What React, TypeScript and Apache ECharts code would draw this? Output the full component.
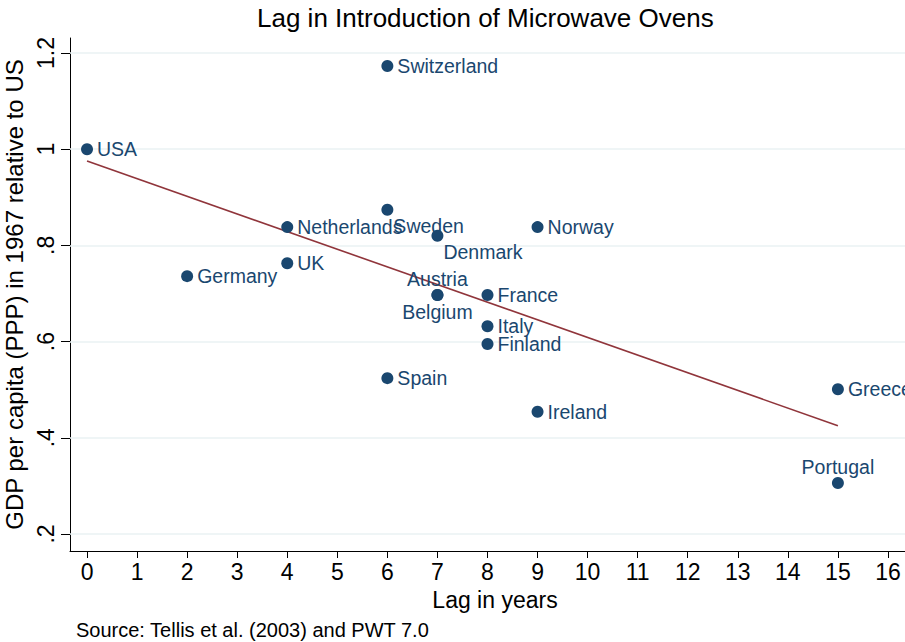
import React, { useEffect, useRef } from "react";
import * as echarts from "echarts";

const countries = ["USA", "Switzerland", "Sweden", "Netherlands", "Denmark", "Norway", "Germany", "UK", "Austria", "Belgium", "France", "Italy", "Finland", "Spain", "Ireland", "Greece", "Portugal"];
const lagYears = [0, 6, 6, 4, 7, 9, 2, 4, 7, 7, 8, 8, 8, 6, 9, 15, 15];
const gdpRelative = [1.0, 1.173, 0.874, 0.838, 0.82, 0.838, 0.736, 0.763, 0.697, 0.697, 0.697, 0.632, 0.595, 0.524, 0.454, 0.501, 0.306];
const fitX = [0, 15];
const fitY = [0.9755, 0.425];
const xTicks = [0, 1, 2, 3, 4, 5, 6, 7, 8, 9, 10, 11, 12, 13, 14, 15, 16];
const yTicks = [0.2, 0.4, 0.6, 0.8, 1.0, 1.2];
const yTickLabels = [".2", ".4", ".6", ".8", "1", "1.2"];
const labelClock: Record<string, number> = { Sweden: 4, Denmark: 4, Austria: 12, Belgium: 6, Portugal: 12 };

const titleText = "Lag in Introduction of Microwave Ovens";
const xTitle = "Lag in years";
const yTitle = "GDP per capita (PPP) in 1967 relative to US";
const noteText = "Source: Tellis et al. (2003) and PWT 7.0";

const FONT = "'Liberation Sans', Arial, Helvetica, sans-serif";
const NAVY = "#1a476f";
const MAROON = "#90353b";
const GRID = "#eaf2f3";

function labelFor(name: string) {
  const c = labelClock[name] ?? 3;
  if (c === 12) return { position: [6, -10], align: "center", verticalAlign: "middle" };
  if (c === 6) return { position: [6, 23], align: "center", verticalAlign: "middle" };
  if (c === 4) return { position: [12, 22], align: "left", verticalAlign: "middle" };
  return { position: [16, 6], align: "left", verticalAlign: "middle" };
}

export default function App() {
  const ref = useRef<HTMLDivElement>(null);
  useEffect(() => {
    if (!ref.current) return;
    const chart = echarts.init(ref.current, null, { renderer: "svg" });
    const scatterData = countries.map((name, i) => ({
      value: [lagYears[i], gdpRelative[i]],
      name,
      label: { show: true, formatter: name, ...labelFor(name) },
    }));
    chart.setOption({
      animation: false,
      backgroundColor: "#ffffff",
      textStyle: { fontFamily: FONT },
      title: [
        {
          text: titleText,
          left: 257,
          top: 5,
          padding: 0,
          textStyle: { fontFamily: FONT, fontSize: 26, fontWeight: "normal", color: "#000" },
        },
        {
          text: noteText,
          left: 76,
          top: 620,
          padding: 0,
          textStyle: { fontFamily: FONT, fontSize: 20, fontWeight: "normal", color: "#000" },
        },
      ],
      grid: { left: 70, top: 38, width: 850, height: 513, containLabel: false, outerBoundsMode: "none" },
      xAxis: {
        type: "value",
        min: -0.34,
        max: 16.64,
        name: xTitle,
        nameLocation: "middle",
        nameGap: 37,
        nameTextStyle: { fontFamily: FONT, fontSize: 23, color: "#000" },
        axisLine: { show: true, onZero: false, lineStyle: { color: "#000", width: 1 } },
        axisTick: { show: true, length: 7, customValues: xTicks, lineStyle: { color: "#000" } },
        axisLabel: { customValues: xTicks, fontFamily: FONT, fontSize: 23, color: "#000", margin: 9 },
        splitLine: { show: false },
      },
      yAxis: {
        type: "value",
        min: 0.1646,
        max: 1.2312,
        name: yTitle,
        nameLocation: "middle",
        nameRotate: 90,
        nameGap: 42,
        nameTextStyle: { fontFamily: FONT, fontSize: 24, color: "#000" },
        axisLine: { show: true, onZero: false, lineStyle: { color: "#000", width: 1 } },
        axisTick: { show: true, length: 9, customValues: yTicks, lineStyle: { color: "#000" } },
        axisLabel: {
          customValues: yTicks,
          rotate: 90,
          fontFamily: FONT,
          fontSize: 23,
          color: "#000",
          margin: 13,
          formatter: (v: number) => {
            let idx = 0;
            yTicks.forEach((t, i) => {
              if (Math.abs(t - v) < Math.abs(yTicks[idx] - v)) idx = i;
            });
            return yTickLabels[idx];
          },
        },
        splitLine: { show: false },
      },
      series: [
        {
          type: "line",
          name: "fit",
          data: fitX.map((x, i) => [x, fitY[i]]),
          showSymbol: false,
          symbol: "none",
          lineStyle: { color: MAROON, width: 1.6 },
          z: 2,
          markLine: {
            silent: true,
            symbol: "none",
            label: { show: false },
            lineStyle: { color: GRID, width: 1.5, type: "solid" },
            data: yTicks.map((v) => ({ yAxis: v })),
            z: 1,
          },
        },
        {
          type: "scatter",
          name: "countries",
          data: scatterData,
          symbol: "circle",
          symbolSize: 12,
          itemStyle: { color: NAVY, opacity: 1 },
          label: { show: true, fontFamily: FONT, fontSize: 19.5, color: NAVY },
          labelLayout: { hideOverlap: false },
          z: 3,
        },
      ],
    });
    return () => chart.dispose();
  }, []);
  return (
    <div
      ref={ref}
      style={{ position: "fixed", left: 0, top: 0, width: 905, height: 642 }}
    />
  );
}
